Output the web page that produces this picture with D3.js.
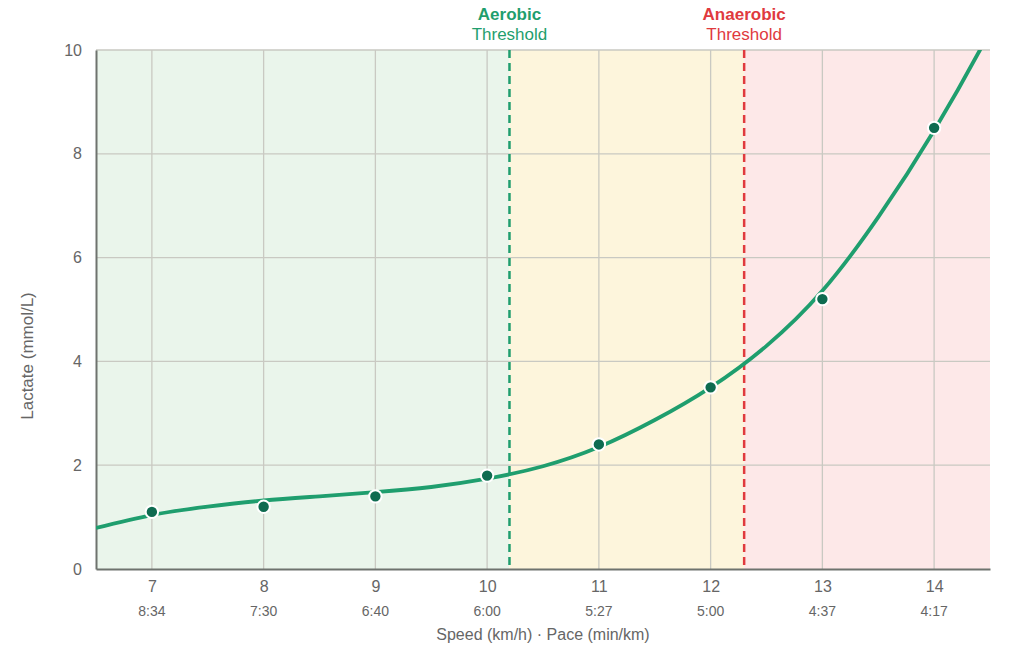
<!DOCTYPE html>
<html>
<head>
<meta charset="utf-8">
<script src="https://cdn.jsdelivr.net/npm/d3@7"></script>
<style>
  body { margin: 0; background: #fff; font-family: "Liberation Sans", Arial, sans-serif; }
</style>
</head>
<body>
<div id="chart"></div>
<script>
// measured lactate points
const speeds = [7, 8, 9, 10, 11, 12, 13, 14];
const paces = ["8:34", "7:30", "6:40", "6:00", "5:27", "5:00", "4:37", "4:17"];
const lactate = [1.1, 1.2, 1.4, 1.8, 2.4, 3.5, 5.2, 8.5];

// fitted curve
const curveSpeed = [6.5, 7, 7.5, 8, 8.5, 9, 9.5, 10, 10.5, 11, 11.5, 12, 12.5, 13, 13.5, 14, 14.41, 14.5];
const curveLactate = [0.79, 1.04, 1.2, 1.32, 1.4, 1.48, 1.58, 1.74, 1.98, 2.35, 2.87, 3.5, 4.3, 5.36, 6.78, 8.45, 10, 10.4];

const aerobic = 10.2;
const anaerobic = 12.3;
const yTicks = [0, 2, 4, 6, 8, 10];

const w = 1035, h = 646;
const m = { left: 96, right: 45, top: 50, bottom: 77 };

const svg = d3.select("#chart").append("svg")
  .attr("width", w)
  .attr("height", h);

const x = d3.scaleLinear().domain([6.5, 14.5]).range([m.left, w - m.right]);
const y = d3.scaleLinear().domain([0, 10]).range([h - m.bottom, m.top]);

// zones
const zones = [
  { from: 6.5, to: aerobic, fill: "#eaf5eb" },
  { from: aerobic, to: anaerobic, fill: "#fdf5dc" },
  { from: anaerobic, to: 14.5, fill: "#fde8e8" }
];
svg.selectAll("rect.zone")
  .data(zones)
  .enter()
  .append("rect")
  .attr("class", "zone")
  .attr("x", d => x(d.from))
  .attr("width", d => x(d.to) - x(d.from))
  .attr("y", y(10))
  .attr("height", y(0) - y(10))
  .attr("fill", d => d.fill);

// grid
svg.append("g")
  .selectAll("line")
  .data(speeds)
  .enter()
  .append("line")
  .attr("x1", d => x(d)).attr("x2", d => x(d))
  .attr("y1", y(10)).attr("y2", y(0))
  .attr("stroke", "#c9c9c2").attr("stroke-width", 1.3);

svg.append("g")
  .selectAll("line")
  .data(yTicks.slice(1))
  .enter()
  .append("line")
  .attr("x1", x(6.5)).attr("x2", x(14.5))
  .attr("y1", d => y(d)).attr("y2", d => y(d))
  .attr("stroke", "#c9c9c2").attr("stroke-width", 1.3);

// axes
const yAxis = d3.axisLeft(y).tickValues(yTicks).tickSize(0).tickPadding(14);
const gy = svg.append("g")
  .attr("transform", `translate(${m.left},0)`)
  .call(yAxis);
gy.select(".domain").attr("stroke", "#6e736e").attr("stroke-width", 2);
gy.selectAll("text")
  .attr("font-family", "Liberation Sans, Arial, sans-serif")
  .attr("font-size", 16)
  .attr("fill", "#666");

const xAxis = d3.axisBottom(x).tickValues(speeds).tickSize(0).tickPadding(12);
const gx = svg.append("g")
  .attr("transform", `translate(0,${y(0)})`)
  .call(xAxis);
gx.select(".domain").attr("stroke", "#6e736e").attr("stroke-width", 2);
gx.selectAll("text")
  .attr("font-family", "Liberation Sans, Arial, sans-serif")
  .attr("font-size", 16)
  .attr("fill", "#666");

svg.append("g")
  .selectAll("text")
  .data(speeds)
  .enter()
  .append("text")
  .attr("x", d => x(d))
  .attr("y", y(0) + 47)
  .attr("text-anchor", "middle")
  .attr("font-size", 14)
  .attr("fill", "#666")
  .text((d, i) => paces[i]);

// axis titles
svg.append("text")
  .attr("x", (x(6.5) + x(14.5)) / 2)
  .attr("y", 640)
  .attr("text-anchor", "middle")
  .attr("font-size", 16)
  .attr("fill", "#666")
  .text("Speed (km/h) · Pace (min/km)");

svg.append("text")
  .attr("transform", `translate(33,356) rotate(-90)`)
  .attr("text-anchor", "middle")
  .attr("font-size", 17)
  .attr("fill", "#666")
  .text("Lactate (mmol/L)");

// threshold lines
const thresholds = [
  { v: aerobic, name: "Aerobic", color: "#1f9e6e" },
  { v: anaerobic, name: "Anaerobic", color: "#e03a3e" }
];
const th = svg.append("g").selectAll("g")
  .data(thresholds)
  .enter()
  .append("g");
th.append("line")
  .attr("x1", d => x(d.v)).attr("x2", d => x(d.v))
  .attr("y1", y(10)).attr("y2", y(0))
  .attr("stroke", d => d.color)
  .attr("stroke-width", 2.5)
  .attr("stroke-dasharray", "8,5");
th.append("text")
  .attr("x", d => x(d.v))
  .attr("y", 20)
  .attr("text-anchor", "middle")
  .attr("font-size", 17)
  .attr("font-weight", "bold")
  .attr("fill", d => d.color)
  .text(d => d.name);
th.append("text")
  .attr("x", d => x(d.v))
  .attr("y", 40)
  .attr("text-anchor", "middle")
  .attr("font-size", 17)
  .attr("fill", d => d.color)
  .text("Threshold");

// curve
svg.append("clipPath").attr("id", "clip")
  .append("rect")
  .attr("x", x(6.5)).attr("y", y(10))
  .attr("width", x(14.5) - x(6.5)).attr("height", y(0) - y(10));

const line = d3.line()
  .x(d => x(d[0]))
  .y(d => y(d[1]))
  .curve(d3.curveNatural);

svg.append("path")
  .datum(d3.zip(curveSpeed, curveLactate))
  .attr("clip-path", "url(#clip)")
  .attr("fill", "none")
  .attr("stroke", "#1f9e6e")
  .attr("stroke-width", 3.8)
  .attr("d", line);

// points
svg.append("g")
  .selectAll("circle")
  .data(d3.zip(speeds, lactate))
  .enter()
  .append("circle")
  .attr("cx", d => x(d[0]))
  .attr("cy", d => y(d[1]))
  .attr("r", 6.2)
  .attr("fill", "#0e6b50")
  .attr("stroke", "#fff")
  .attr("stroke-width", 2);
</script>
</body>
</html>
